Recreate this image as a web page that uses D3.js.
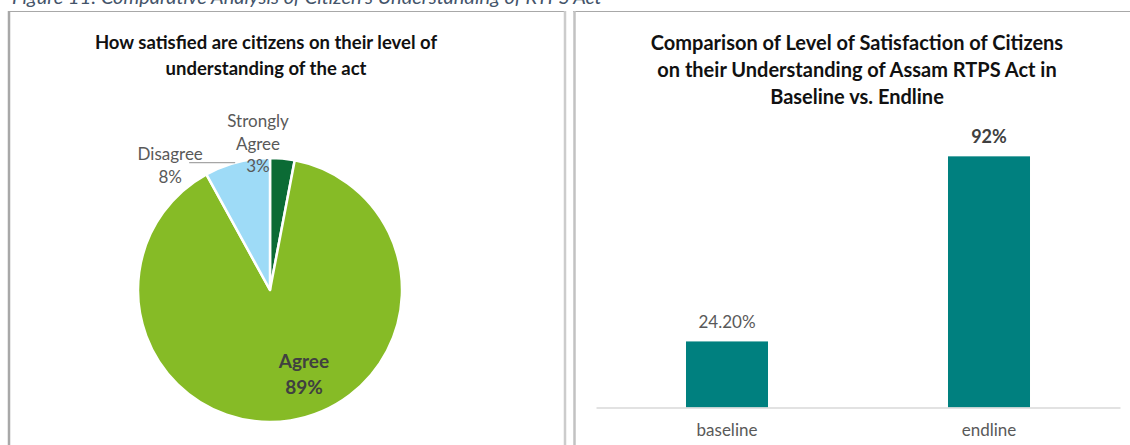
<!DOCTYPE html>
<html>
<head>
<meta charset="utf-8">
<script src="https://cdn.jsdelivr.net/npm/d3@7"></script>
<style>
  body { margin: 0; background: #fff; }
  svg { display: block; font-family: Lato, "Open Sans", sans-serif; }
</style>
</head>
<body>
<div id="chart"></div>
<script>
// pie: satisfaction with understanding of the act
var pieCategories = ["Strongly Agree", "Agree", "Disagree"];
var pieValues = [3, 89, 8];
var pieColors = ["#0b6b35", "#86bb26", "#9edbf7"];

// bars: baseline vs endline
var barCategories = ["baseline", "endline"];
var barValues = [24.2, 92];
var barLabels = ["24.20%", "92%"];

var width = 1130, height = 445;

var svg = d3.select("#chart").append("svg")
    .attr("width", width)
    .attr("height", height);

// caption at top, mostly cut off
svg.append("text")
    .attr("x", 12)
    .attr("y", 4)
    .style("font-style", "italic")
    .style("font-size", "20px")
    .style("fill", "#44546a")
    .text("Figure 11: Comparative Analysis of Citizen's Understanding of RTPS Act");

// panel frames
var frame = svg.append("g");
frame.append("line").attr("x1", 8).attr("x2", 566).attr("y1", 11.5).attr("y2", 11.5)
    .attr("stroke", "#a8a8a8").attr("stroke-width", 1);
frame.append("line").attr("x1", 9).attr("x2", 9).attr("y1", 11).attr("y2", 445)
    .attr("stroke", "#a8a8a8").attr("stroke-width", 2.5);
frame.append("line").attr("x1", 565).attr("x2", 565).attr("y1", 11).attr("y2", 445)
    .attr("stroke", "#cccccc").attr("stroke-width", 2.5);
frame.append("line").attr("x1", 573).attr("x2", 1130).attr("y1", 11.5).attr("y2", 11.5)
    .attr("stroke", "#a8a8a8").attr("stroke-width", 1);
frame.append("line").attr("x1", 574.5).attr("x2", 574.5).attr("y1", 11).attr("y2", 445)
    .attr("stroke", "#c2c2c2").attr("stroke-width", 2.5);

// ---------- left: pie ----------
var left = svg.append("g");

left.selectAll(".ptitle")
    .data(["How satisfied are citizens on their level of", "understanding of the act"])
    .enter().append("text")
    .attr("x", 266)
    .attr("y", function(d, i) { return 49 + i * 26; })
    .attr("text-anchor", "middle")
    .style("font-weight", "bold")
    .style("font-size", "18.5px")
    .style("fill", "#111")
    .text(function(d) { return d; });

var cx = 270, cy = 290, r = 132;

var pie = d3.pie().sort(null).value(function(d) { return d; });
var arc = d3.arc().innerRadius(0).outerRadius(r);
var arcs = pie(pieValues);

var pg = left.append("g").attr("transform", "translate(" + cx + "," + cy + ")");

pg.selectAll("path")
    .data(arcs)
    .enter().append("path")
    .attr("d", arc)
    .attr("fill", function(d, i) { return pieColors[i]; })
    .attr("stroke", "#fff")
    .attr("stroke-width", 2.5)
    .attr("stroke-linejoin", "round");

// label layout (Excel style): outside for small slices, inside for Agree
var outerPt = d3.arc().innerRadius(r).outerRadius(r);
var labelSpec = [
  { lines: ["Strongly", "Agree", "3%"], dx: -12, dy: -163, lh: 22.5, bold: false },
  { lines: ["Agree", "89%"], dx: 34, dy: 78, lh: 26, bold: true },
  { lines: ["Disagree", "8%"], dx: -67, dy: -2, lh: 23, bold: false }
];

arcs.forEach(function(a, i) {
  var s = labelSpec[i];
  var c = (i === 2) ? outerPt.centroid(a) : [0, 0];
  var t = pg.append("text")
      .attr("text-anchor", "middle")
      .style("font-size", s.bold ? "19px" : "17px")
      .style("font-weight", s.bold ? "bold" : "normal")
      .style("fill", s.bold ? "#404040" : "#595959");
  s.lines.forEach(function(l, k) {
    t.append("tspan")
      .attr("x", c[0] + s.dx)
      .attr("y", c[1] + s.dy + k * s.lh)
      .text(l);
  });
});

// leader line for Disagree
var dp = outerPt.centroid(arcs[2]);
pg.append("path")
    .attr("d", "M" + (dp[0] - 48) + "," + (dp[1] + 0.5) + "H" + (dp[0] - 2))
    .attr("stroke", "#a6a6a6")
    .attr("stroke-width", 1.2)
    .attr("fill", "none");

// ---------- right: bars ----------
var right = svg.append("g");

right.selectAll(".btitle")
    .data(["Comparison of Level of Satisfaction of Citizens",
           "on their Understanding of Assam RTPS Act in",
           "Baseline vs. Endline"])
    .enter().append("text")
    .attr("x", 857)
    .attr("y", function(d, i) { return 50 + i * 27; })
    .attr("text-anchor", "middle")
    .style("font-weight", "bold")
    .style("font-size", "20px")
    .style("fill", "#111")
    .text(function(d) { return d; });

var x = d3.scaleBand()
    .domain(barCategories)
    .range([596, 1120])
    .paddingInner(0.687)
    .paddingOuter(0.3435);

var y = d3.scaleLinear()
    .domain([0, 100])
    .range([407.5, 134.5]);

right.selectAll("rect.bar")
    .data(barValues)
    .enter().append("rect")
    .attr("class", "bar")
    .attr("x", function(d, i) { return x(barCategories[i]); })
    .attr("y", function(d) { return y(d); })
    .attr("width", x.bandwidth())
    .attr("height", function(d) { return y(0) - y(d); })
    .attr("fill", "#00807f");

right.selectAll("text.val")
    .data(barValues)
    .enter().append("text")
    .attr("class", "val")
    .attr("x", function(d, i) { return x(barCategories[i]) + x.bandwidth() / 2; })
    .attr("y", function(d) { return y(d) - 13; })
    .attr("text-anchor", "middle")
    .style("font-size", function(d, i) { return i === 1 ? "18px" : "17px"; })
    .style("font-weight", function(d, i) { return i === 1 ? "bold" : "normal"; })
    .style("fill", function(d, i) { return i === 1 ? "#404040" : "#595959"; })
    .text(function(d, i) { return barLabels[i]; });

var xAxis = right.append("g")
    .attr("transform", "translate(0," + y(0) + ")")
    .call(d3.axisBottom(x).tickSize(0).tickPadding(16));

xAxis.select(".domain").attr("stroke", "#d9d9d9").attr("stroke-width", 1.5);
xAxis.selectAll("text")
    .style("font-family", "Lato, 'Open Sans', sans-serif")
    .style("font-size", "17px")
    .style("fill", "#595959");
</script>
</body>
</html>
